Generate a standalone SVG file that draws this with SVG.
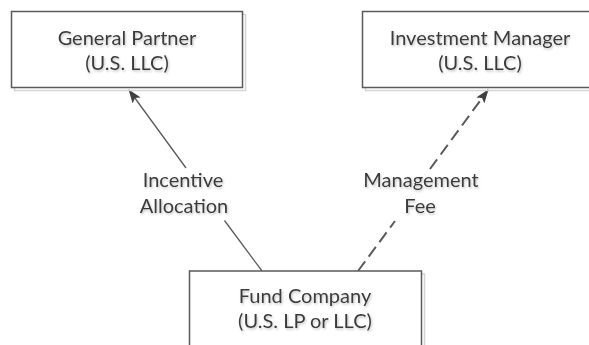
<svg xmlns="http://www.w3.org/2000/svg" width="589" height="345" viewBox="0 0 589 345">
  <style>
    .box { fill: #ffffff; stroke: #5a5a5a; stroke-width: 1.5; }
    .shadow { fill: none; stroke: #d4d4d4; stroke-width: 1.5; }
    .t { font-family: Lato, "Open Sans", "Liberation Sans", sans-serif; font-size: 20px; fill: #3a3a3a; text-anchor: middle; filter: url(#ts); }
    .conn { fill: none; stroke: #5a5a5a; stroke-width: 1.3; }
    .dash { stroke-width: 2; stroke-dasharray: 12 6; }
  </style>
  <defs>
    <filter id="ts" x="-10%" y="-30%" width="120%" height="160%">
      <feDropShadow dx="1" dy="1.5" stdDeviation="0.8" flood-color="#9a9a9a" flood-opacity="0.6"/>
    </filter>
    <marker id="arr" viewBox="0 0 14 10" refX="13" refY="5" markerWidth="14" markerHeight="10" markerUnits="userSpaceOnUse" orient="auto">
      <path d="M0,0 L14,5 L0,10 L3,5 Z" fill="#404040"/>
    </marker>
  </defs>
  <g id="connectors">
    <path class="conn" d="M262,271 L224.5,220.5 M186,168 L129,90" marker-end="url(#arr)"/>
    <path class="conn dash" d="M358,271 L395,221 M430,169 L488,90" marker-end="url(#arr)"/>
    <text class="t" x="183" y="187">Incentive</text>
    <text class="t" x="184" y="213">Allocation</text>
    <text class="t" x="421" y="187">Management</text>
    <text class="t" x="420" y="213">Fee</text>
  </g>
  <g id="general-partner">
    <rect class="shadow" x="14.5" y="14.5" width="231" height="76"/>
    <rect class="box" x="11.5" y="11.5" width="231" height="76"/>
    <text class="t" x="127" y="45">General Partner</text>
    <text class="t" x="127" y="70">(U.S. LLC)</text>
  </g>
  <g id="investment-manager">
    <rect class="shadow" x="365.5" y="14.5" width="231" height="76"/>
    <rect class="box" x="362.5" y="11.5" width="231" height="76"/>
    <text class="t" x="480" y="45">Investment Manager</text>
    <text class="t" x="480" y="70">(U.S. LLC)</text>
  </g>
  <g id="fund-company">
    <rect class="shadow" x="192.5" y="274" width="232" height="90"/>
    <rect class="box" x="189.5" y="271" width="232" height="90"/>
    <text class="t" x="305" y="303">Fund Company</text>
    <text class="t" x="305" y="328">(U.S. LP or LLC)</text>
  </g>
</svg>
